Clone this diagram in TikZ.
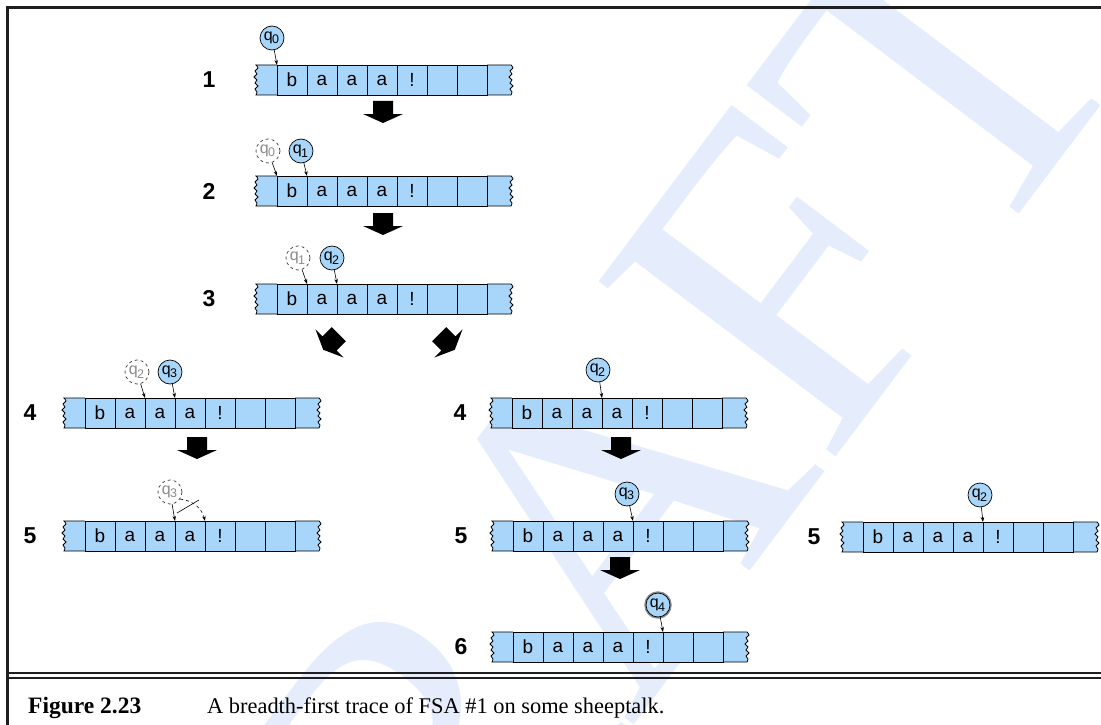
\documentclass[tikz,border=0pt]{standalone}
\usepackage{fontspec}
\setmainfont{Liberation Serif}
\setsansfont{Liberation Sans}
\usetikzlibrary{arrows.meta}
\definecolor{tapeblue}{RGB}{168,214,250}
\definecolor{wm}{RGB}{229,237,252}
\tikzset{
  cell/.style={draw=black, line width=0.8pt, fill=tapeblue, minimum width=30pt, minimum height=30pt,
    inner sep=0pt, font=\sffamily\fontsize{19}{19}\selectfont},
  tapeend/.style={fill=tapeblue, draw=black, line width=0.8pt},
  qst/.style={circle, draw=black, line width=0.7pt, fill=tapeblue, minimum size=24pt, inner sep=0pt,
    font=\sffamily\fontsize{16}{16}\selectfont},
  ghost/.style={qst, fill=white, dashed, draw=black!75, text=black!45},
  halo/.style={qst, preaction={draw=black!45, line width=3.5pt}},
  ptr/.style={-{Stealth[length=5pt,width=3.5pt]}, line width=0.6pt},
  steplabel/.style={font=\sffamily\bfseries\fontsize{23}{23}\selectfont},
  frameline/.style={line width=3pt, black!88},
  blockarrow/.pic={\fill[black] (-10,-11) -- (10,-11) -- (10,2) -- (20,2) -- (0,11) -- (-20,2) -- (-10,2) -- cycle;}
}
\newcommand{\qs}[1]{\kern-1pt q\kern-0.5pt\raisebox{-3.5pt}{\fontsize{12.5}{12.5}\selectfont #1}}
% #1 name, #2 x of first divider, #3 y of centre
\newcommand{\tapeat}[3]{%
  \begin{scope}[shift={(#2,#3)}]
    \filldraw[tapeend] (0,-15) -- (-21,-15) -- plot[smooth] coordinates {(-21,-15)(-19,-12)(-22,-9)(-20,-6)(-23,-3)(-20,0)(-22,3)(-19,6)(-22,9)(-20,12)(-21,15)} -- (0,15);
    \filldraw[tapeend] (210,-15) -- (234,-15) -- plot[smooth] coordinates {(234,-15)(236,-12)(233,-9)(235,-6)(232,-3)(235,0)(233,3)(236,6)(233,9)(235,12)(234,15)} -- (210,15);
    \foreach \t [count=\k] in {b,a,a,a,!,{},{}}
      \node[cell] (#1c\k) at ({30*\k-15},0) {\t};
    \foreach \k in {1,...,8}
      \coordinate (#1d\k) at ({30*(\k-1)},-15);
  \end{scope}}
\begin{document}
\begin{tikzpicture}[x=1pt,y=-1pt]
\useasboundingbox (0,0) rectangle (1101,725);
% watermark
\begin{scope}
\clip (0,0) rectangle (1101,725);
\node[text=wm, rotate=53, anchor=base west, font=\fontsize{450}{450}\selectfont, inner sep=0pt] (wmark) at (255,1228) {DRAFT};
\end{scope}
% frame
\draw[frameline] (7.5,725) -- (7.5,8) -- (1101,8);
\draw[line width=2pt, black!88] (7,673) -- (1101,673);
\draw[line width=2pt, black!88] (7,677.5) -- (1101,677.5);

% tapes
\tapeat{ta}{277}{80}
\tapeat{tb}{277}{191}
\tapeat{tc}{277}{299}
\tapeat{td}{85}{413}
\tapeat{te}{85}{536}
\tapeat{tf}{512}{413}
\tapeat{tg}{513}{536}
\tapeat{th}{513}{647}
\tapeat{ti}{863}{537}

% step labels
\node[steplabel] (la) at (209,80) {1};
\node[steplabel] (lb) at (209,191) {2};
\node[steplabel] (lc) at (209,299) {3};
\node[steplabel] (ld) at (30,413) {4};
\node[steplabel] (le) at (30,536) {5};
\node[steplabel] (lf) at (460,413) {4};
\node[steplabel] (lg) at (461,536) {5};
\node[steplabel] (lh) at (461,647) {6};
\node[steplabel] (li) at (814,537) {5};

% state markers
\node[qst] (qa) at (272,38) {\qs{0}};
\draw[ptr] (qa) -- (tad1);

\node[ghost] (gb) at (268,151) {\qs{0}};
\node[qst] (qb) at (301,151) {\qs{1}};
\draw[ptr] (gb) -- (tbd1);
\draw[ptr] (qb) -- (tbd2);

\node[ghost] (gc) at (298,258) {\qs{1}};
\node[qst] (qc) at (332,258) {\qs{2}};
\draw[ptr] (gc) -- (tcd2);
\draw[ptr] (qc) -- (tcd3);

\node[ghost] (gd) at (137,372) {\qs{2}};
\node[qst] (qd) at (170,372) {\qs{3}};
\draw[ptr] (gd) -- (tdd3);
\draw[ptr] (qd) -- (tdd4);

\node[ghost] (ge) at (170,492) {\qs{3}};
\draw[ptr] (ge) -- (ted4);
\draw[ptr, dashed] (ge.-35) to[bend left=35] (ted5);
\coordinate (xa) at (177,513);
\coordinate (xb) at (199,500);
\draw[line width=0.6pt] (xa) -- (xb);

\node[qst] (qf) at (598,370) {\qs{2}};
\draw[ptr] (qf) -- (tfd4);

\node[qst] (qg) at (627,494) {\qs{3}};
\draw[ptr] (qg) -- (tgd5);

\node[halo] (qh) at (658,605) {\qs{4}};
\draw[ptr] (qh) -- (thd6);

\node[qst] (qi) at (980,495) {\qs{2}};
\draw[ptr] (qi) -- (tid5);

% block arrows
\pic at (383,112) {blockarrow};
\pic at (383,224) {blockarrow};
\pic[rotate=-45] at (331,342) {blockarrow};
\pic[rotate=45] at (447,342) {blockarrow};
\pic at (197,448) {blockarrow};
\pic at (621,448) {blockarrow};
\pic at (620,568) {blockarrow};

% caption
\node[anchor=base west, inner sep=0pt, font=\bfseries\fontsize{23.5}{23.5}\selectfont] (capa) at (28,713) {Figure 2.23};
\node[anchor=base west, inner sep=0pt, font=\fontsize{22.4}{22.4}\selectfont] (capb) at (207,713) {A breadth-first trace of FSA \#1 on some sheeptalk.};
\end{tikzpicture}
\end{document}
